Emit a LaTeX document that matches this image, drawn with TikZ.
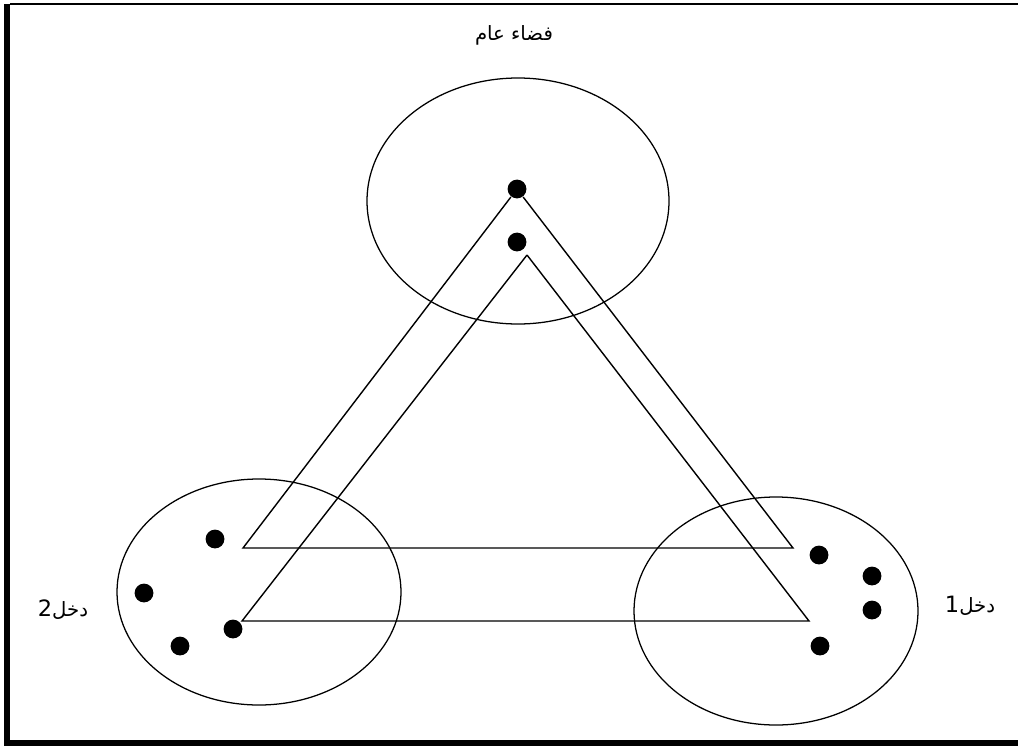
\documentclass[tikz,border=0pt]{standalone}
\usepackage{fontspec}
\usepackage{tikz}
\usetikzlibrary{calc}
\newfontfamily\arabicfont[Script=Arabic]{DejaVu Sans}
\TeXXeTstate=1

\begin{document}
\begin{tikzpicture}[x=0.025cm,y=-0.025cm,line width=1pt]
\tikzset{dot/.style={circle,fill=black,inner sep=0pt,minimum size=0.47cm},
  zone/.style={draw,line width=0.9pt},
  lbl/.style={font=\arabicfont\fontsize{14}{16}\selectfont}}
\useasboundingbox (0,0) rectangle (1018,749);
% frame
\draw[line width=0.8pt] (10,4)--(1018,4);
\draw[line width=4.3pt] (7,4)--(7,743)--(1018,743);
% spaces
\draw[zone] (518,201) ellipse [x radius=151,y radius=123];
\draw[zone] (259,592) ellipse [x radius=142,y radius=113];
\draw[zone] (776,611) ellipse [x radius=142,y radius=114];
\node[lbl] (pub) at (514,35) {\beginR فضاء عام\endR};
\node[lbl] (inc2) at (63,610) {\beginR دخل{\fontsize{16}{16}\selectfont 2}\endR};
\node[lbl] (inc1) at (970,606) {\beginR دخل{\fontsize{16}{16}\selectfont 1}\endR};
% dots
\node[dot] (t1) at (517,189) {};
\node[dot] (t2) at (517,242) {};
\node[dot] (l1) at (215,539) {};
\node[dot] (l2) at (144,593) {};
\node[dot] (l3) at (233,629) {};
\node[dot] (l4) at (180,646) {};
\node[dot] (r1) at (819,555) {};
\node[dot] (r2) at (872,576) {};
\node[dot] (r3) at (872,610) {};
\node[dot] (r4) at (820,646) {};
% triangles
\coordinate (a1) at (243,548);
\coordinate (b1) at (793,548);
\coordinate (c2) at (527,255);
\coordinate (a2) at (242,621);
\coordinate (b2) at (809,621);
\draw (t1) -- (a1) -- (b1) -- (t1);
\draw (c2) -- (a2) -- (b2) -- (c2);
\end{tikzpicture}
\end{document}
